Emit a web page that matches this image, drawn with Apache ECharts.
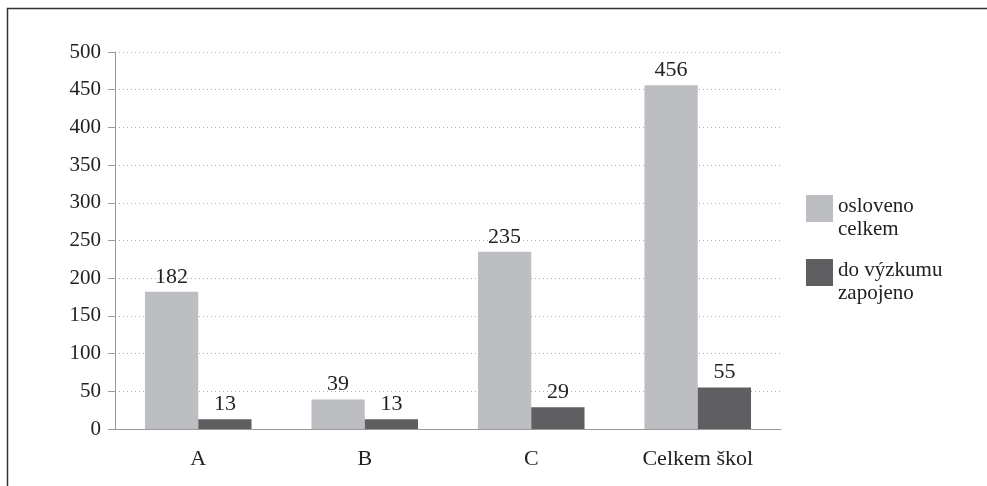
<!DOCTYPE html>
<html><head><meta charset="utf-8">
<script src="https://cdn.jsdelivr.net/npm/echarts@6/dist/echarts.min.js"></script>
<style>html,body{margin:0;padding:0;background:#fff}#c{width:987px;height:486px}</style>
</head><body><div id="c"></div>
<script>
const categories = ['A', 'B', 'C', 'Celkem škol'];
const oslovenoCelkem = [182, 39, 235, 456];
const doVyzkumuZapojeno = [13, 13, 29, 55];
const seriesNames = ['osloveno\ncelkem', 'do výzkumu\nzapojeno'];

const font = 'Liberation Serif';
const chart = echarts.init(document.getElementById('c'), null, {renderer: 'canvas'});
chart.setOption({
  backgroundColor: '#fff',
  animation: false,
  graphic: [{
    type: 'polyline', silent: true,
    shape: {points: [[7.5, 486], [7.5, 8.5], [987, 8.5]]},
    style: {stroke: '#333', lineWidth: 1.5, fill: null}
  }],
  grid: {left: 115, right: 206, top: 52, bottom: 57, containLabel: false},
  legend: {
    orient: 'vertical', left: 806, top: 194, padding: 0,
    itemWidth: 27, itemHeight: 47, itemGap: 17, itemTextGap: 7,
    icon: 'path://M0,1L27,1L27,28L0,28Z M0,0L0.01,0Z M0,47L0.01,47Z',
    textStyle: {fontFamily: font, fontSize: 21, color: '#222', lineHeight: 23}
  },
  xAxis: {
    type: 'category', data: categories,
    axisLine: {lineStyle: {color: '#999', width: 1}},
    axisTick: {length: 7, lineStyle: {color: '#999'}},
    axisLabel: {fontFamily: font, fontSize: 22, color: '#222', margin: 19}
  },
  yAxis: {
    type: 'value', min: 0, max: 500, interval: 50,
    axisLine: {show: true, lineStyle: {color: '#999', width: 1}},
    axisTick: {show: true, length: 7, lineStyle: {color: '#999'}},
    axisLabel: {fontFamily: font, fontSize: 21, color: '#222', margin: 14},
    splitLine: {lineStyle: {color: '#aaa', type: [1, 3], width: 1}}
  },
  series: [
    {name: seriesNames[0], type: 'bar', data: oslovenoCelkem, barGap: '0%', barCategoryGap: '36%',
     itemStyle: {color: '#bdbec1'},
     label: {show: true, position: 'top', distance: 4, fontFamily: font, fontSize: 22, color: '#222'}},
    {name: seriesNames[1], type: 'bar', data: doVyzkumuZapojeno, barGap: '0%', barCategoryGap: '36%',
     itemStyle: {color: '#5f5f61'},
     label: {show: true, position: 'top', distance: 4, fontFamily: font, fontSize: 22, color: '#222'}}
  ]
});
</script></body></html>
